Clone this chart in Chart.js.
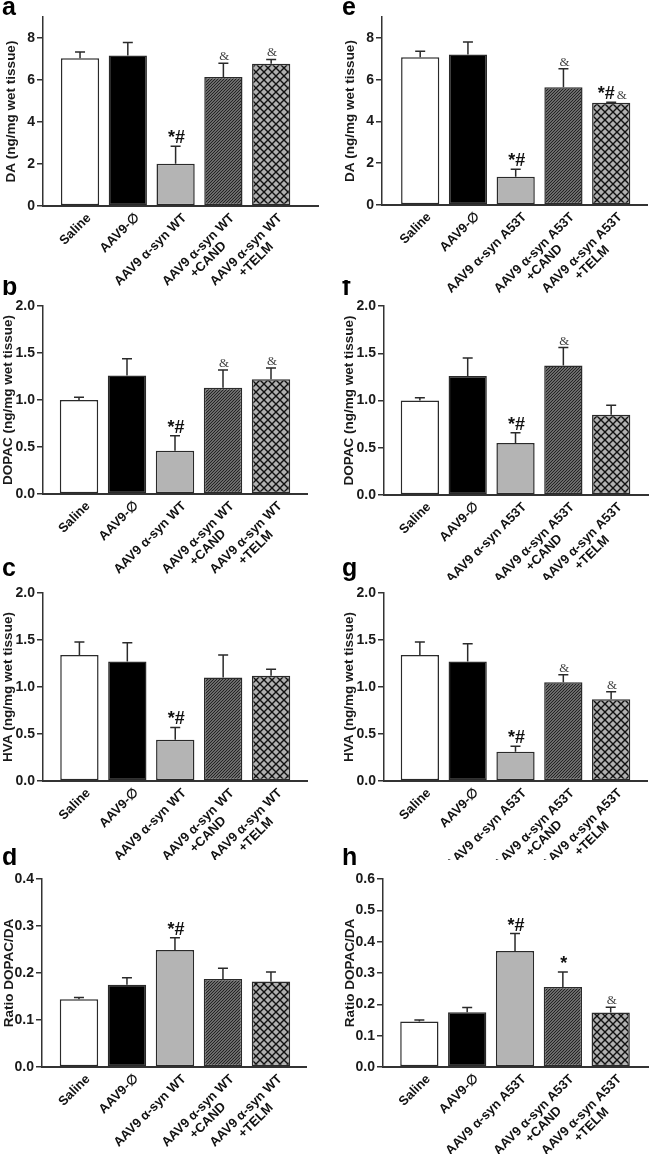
<!DOCTYPE html>
<html>
<head>
<meta charset="utf-8">
<script src="https://cdn.jsdelivr.net/npm/chart.js@4.4.0/dist/chart.umd.min.js"></script>
<style>
  body { margin: 0; background: #fff; }
  #fig { position: relative; width: 649px; height: 1154px; }
  #fig canvas { position: absolute; }
</style>
</head>
<body>
<div id="fig"></div>
<script>
// Group labels
const groupsWT = ['Saline', 'AAV9-\u2205', 'AAV9 \u03b1-syn WT',
  ['AAV9 \u03b1-syn WT', '+CAND'], ['AAV9 \u03b1-syn WT', '+TELM']];
const groupsA53T = ['Saline', 'AAV9-\u2205', 'AAV9 \u03b1-syn A53T',
  ['AAV9 \u03b1-syn A53T', '+CAND'], ['AAV9 \u03b1-syn A53T', '+TELM']];

// DA (ng/mg wet tissue)
const daWT = [7.04, 7.17, 2.01, 6.14, 6.77];
const daWTSem = [0.29, 0.62, 0.83, 0.66, 0.21];
const daWTMarks = ['', '', '*#', '&', '&'];
const daA53T = [7.07, 7.20, 1.35, 5.64, 4.89];
const daA53TSem = [0.29, 0.60, 0.36, 0.88, 0.03];
const daA53TMarks = ['', '', '*#', '&', '*#&'];

// DOPAC (ng/mg wet tissue)
const dopacWT = [1.00, 1.26, 0.46, 1.13, 1.22];
const dopacWTSem = [0.03, 0.18, 0.16, 0.19, 0.12];
const dopacWTMarks = ['', '', '*#', '&', '&'];
const dopacA53T = [1.00, 1.26, 0.55, 1.37, 0.85];
const dopacA53TSem = [0.03, 0.19, 0.11, 0.19, 0.10];
const dopacA53TMarks = ['', '', '*#', '&', ''];

// HVA (ng/mg wet tissue)
const hvaWT = [1.34, 1.27, 0.44, 1.10, 1.12];
const hvaWTSem = [0.14, 0.20, 0.13, 0.24, 0.07];
const hvaWTMarks = ['', '', '*#', '', ''];
const hvaA53T = [1.34, 1.27, 0.31, 1.05, 0.87];
const hvaA53TSem = [0.14, 0.19, 0.06, 0.08, 0.08];
const hvaA53TMarks = ['', '', '*#', '&', '&'];

// Ratio DOPAC/DA
const ratioWT = [0.144, 0.175, 0.249, 0.187, 0.182];
const ratioWTSem = [0.004, 0.015, 0.026, 0.023, 0.020];
const ratioWTMarks = ['', '', '*#', '', ''];
const ratioA53T = [0.145, 0.175, 0.370, 0.255, 0.174];
const ratioA53TSem = [0.005, 0.015, 0.056, 0.048, 0.017];
const ratioA53TMarks = ['', '', '*#', '*', '&'];

// Y ticks
const daTicks = [0, 2, 4, 6, 8];
const concTicks = [0, 0.5, 1.0, 1.5, 2.0];
const ratioWTTicks = [0, 0.1, 0.2, 0.3, 0.4];
const ratioA53TTicks = [0, 0.1, 0.2, 0.3, 0.4, 0.5, 0.6];

const SANS = '"Liberation Sans", Arial, Helvetica, sans-serif';
const SERIF = '"Liberation Serif", "Times New Roman", serif';

// panel layout: canvas box + chart area (canvas-relative px)
const panels = [
  { id: 'a', cx: 0, cy: 0, w: 325, h: 300, top: 17, bottom: 206, left: 43, right: 318, tcx: 11.5, lx: 2, ly: 15,
    xMin: -0.775, xMax: 4.98, yMax: 9, yTicks: daTicks, dec: 0, title: 'DA (ng/mg wet tissue)',
    labels: groupsWT, values: daWT, sem: daWTSem, marks: daWTMarks },
  { id: 'b', cx: 0, cy: 280, w: 325, h: 300, top: 26, bottom: 214, left: 43, right: 307, tcx: 8.5, lx: 2, ly: 15,
    xMin: -0.75, xMax: 4.75, yMax: 2, yTicks: concTicks, dec: 1, title: 'DOPAC (ng/mg wet tissue)',
    labels: groupsWT, values: dopacWT, sem: dopacWTSem, marks: dopacWTMarks },
  { id: 'c', cx: 0, cy: 560, w: 325, h: 300, top: 33, bottom: 221, left: 43, right: 307, tcx: 8.7, lx: 2, ly: 16,
    xMin: -0.76, xMax: 4.75, yMax: 2, yTicks: concTicks, dec: 1, title: 'HVA (ng/mg wet tissue)',
    labels: groupsWT, values: hvaWT, sem: hvaWTSem, marks: hvaWTMarks },
  { id: 'd', cx: 0, cy: 848, w: 325, h: 306, top: 31, bottom: 219, left: 42, right: 306, tcx: 9, lx: 2, ly: 17,
    xMin: -0.77, xMax: 4.73, yMax: 0.4, yTicks: ratioWTTicks, dec: 1, title: 'Ratio DOPAC/DA',
    labels: groupsWT, values: ratioWT, sem: ratioWTSem, marks: ratioWTMarks },
  { id: 'e', cx: 325, cy: 0, w: 324, h: 300, top: 17, bottom: 205, left: 57, right: 322, tcx: 25, lx: 17, ly: 15,
    xMin: -0.8, xMax: 4.75, yMax: 9, yTicks: daTicks, dec: 0, title: 'DA (ng/mg wet tissue)',
    labels: groupsA53T, values: daA53T, sem: daA53TSem, marks: daA53TMarks },
  { id: 'f', cx: 325, cy: 280, w: 324, h: 300, top: 26, bottom: 215, left: 59, right: 323, tcx: 24.5, lx: 17, ly: 15,
    xMin: -0.75, xMax: 4.77, yMax: 2, yTicks: concTicks, dec: 1, title: 'DOPAC (ng/mg wet tissue)',
    labels: groupsA53T, values: dopacA53T, sem: dopacA53TSem, marks: dopacA53TMarks },
  { id: 'g', cx: 325, cy: 560, w: 324, h: 300, top: 33, bottom: 221, left: 59, right: 322, tcx: 24.5, lx: 17, ly: 16,
    xMin: -0.75, xMax: 4.75, yMax: 2, yTicks: concTicks, dec: 1, title: 'HVA (ng/mg wet tissue)',
    labels: groupsA53T, values: hvaA53T, sem: hvaA53TSem, marks: hvaA53TMarks },
  { id: 'h', cx: 325, cy: 848, w: 324, h: 306, top: 31, bottom: 219, left: 58, right: 323, tcx: 25, lx: 17, ly: 17,
    xMin: -0.76, xMax: 4.78, yMax: 0.6, yTicks: ratioA53TTicks, dec: 1, title: 'Ratio DOPAC/DA',
    labels: groupsA53T, values: ratioA53T, sem: ratioA53TSem, marks: ratioA53TMarks }
];

function hatchPattern(ctx) {
  const t = document.createElement('canvas');
  t.width = t.height = 3;
  const g = t.getContext('2d');
  g.fillStyle = '#8e8e8e';
  g.fillRect(0, 0, 3, 3);
  g.strokeStyle = '#202020';
  g.lineWidth = 1.2;
  g.beginPath();
  g.moveTo(-1, 4); g.lineTo(4, -1);
  g.moveTo(-1, 1); g.lineTo(1, -1);
  g.moveTo(2, 4); g.lineTo(4, 2);
  g.stroke();
  return ctx.createPattern(t, 'repeat');
}

function crossPattern(ctx) {
  const t = document.createElement('canvas');
  t.width = t.height = 8;
  const g = t.getContext('2d');
  g.fillStyle = '#b0b0b0';
  g.fillRect(0, 0, 8, 8);
  g.strokeStyle = '#111';
  g.lineWidth = 1.4;
  g.beginPath();
  g.moveTo(0, 0); g.lineTo(8, 8);
  g.moveTo(8, 0); g.lineTo(0, 8);
  g.stroke();
  return ctx.createPattern(t, 'repeat');
}

function drawMark(ctx, text, x, baseY) {
  const runs = text.match(/&+|[^&]+/g) || [];
  const fonts = runs.map(r => r[0] === '&' ? `13px ${SERIF}` : `bold 18px ${SANS}`);
  const gap = 2;
  const widths = runs.map((r, k) => { ctx.font = fonts[k]; return ctx.measureText(r).width; });
  const total = widths.reduce((a, b) => a + b, 0) + gap * (runs.length - 1);
  let cx = x - total / 2;
  ctx.textAlign = 'left';
  ctx.textBaseline = 'alphabetic';
  runs.forEach((r, k) => {
    ctx.font = fonts[k];
    ctx.fillStyle = r[0] === '&' ? '#444' : '#111';
    ctx.fillText(r, cx, baseY);
    cx += widths[k] + gap;
  });
}

function renderPanel(p) {
  const cv = document.createElement('canvas');
  cv.width = p.w;
  cv.height = p.h;
  cv.style.left = p.cx + 'px';
  cv.style.top = p.cy + 'px';
  document.getElementById('fig').appendChild(cv);
  const ctx = cv.getContext('2d');
  const fills = ['#ffffff', '#000000', '#b4b4b4', hatchPattern(ctx), crossPattern(ctx)];
  const padLeft = p.tcx - 8.1;

  const extras = {
    id: 'extras' + p.id,
    afterDatasetsDraw(chart) {
      const c = chart.ctx;
      const ys = chart.scales.y;
      const meta = chart.getDatasetMeta(0);
      c.save();
      meta.data.forEach((bar, i) => {
        const top = ys.getPixelForValue(p.values[i] + p.sem[i]);
        c.strokeStyle = '#2a2a2a';
        c.lineWidth = 1.5;
        c.beginPath();
        c.moveTo(bar.x, bar.y);
        c.lineTo(bar.x, top);
        c.moveTo(bar.x - 5, top);
        c.lineTo(bar.x + 5, top);
        c.stroke();
        if (p.marks[i]) drawMark(c, p.marks[i], bar.x + 1, top - 3);
      });
      c.restore();
    },
    afterDraw(chart) {
      const c = chart.ctx;
      const xs = chart.scales.x;
      const base = chart.chartArea.bottom;
      c.save();
      c.font = `bold 13px ${SANS}`;
      c.fillStyle = '#111';
      c.textBaseline = 'middle';
      p.labels.forEach((lab, i) => {
        const lines = Array.isArray(lab) ? lab : [lab];
        c.save();
        c.translate(xs.getPixelForValue(i) + 9, base + 10);
        c.rotate(-Math.PI / 4);
        const w0 = c.measureText(lines[0]).width;
        lines.forEach((ln, k) => {
          if (k === 0) { c.textAlign = 'right'; c.fillText(ln, 0, 0); }
          else { c.textAlign = 'center'; c.fillText(ln, -w0 / 2, k * 14); }
        });
        c.restore();
      });
      // panel letter
      c.font = `bold 25px ${SANS}`;
      c.fillStyle = '#000';
      c.textAlign = 'left';
      c.textBaseline = 'alphabetic';
      c.fillText(p.id, p.lx, p.ly);
      c.restore();
    }
  };

  new Chart(cv, {
    type: 'bar',
    data: {
      datasets: [{
        data: p.values.map((v, i) => ({ x: i, y: v })),
        backgroundColor: fills,
        borderColor: '#2a2a2a',
        borderWidth: 1.5,
        borderSkipped: false,
        barPercentage: 0.8,
        categoryPercentage: 1.0
      }]
    },
    options: {
      responsive: false,
      animation: false,
      events: [],
      layout: { padding: { left: padLeft, top: p.top, right: p.w - p.right, bottom: 0 } },
      plugins: { legend: { display: false }, tooltip: { enabled: false } },
      scales: {
        x: {
          type: 'linear',
          offset: false,
          min: p.xMin,
          max: p.xMax,
          grid: { display: false, drawTicks: false },
          border: { color: '#333', width: 2 },
          ticks: { display: false },
          afterBuildTicks: s => { s.ticks = p.labels.map((_, i) => ({ value: i })); },
          afterFit: s => { s.height = p.h - p.bottom; }
        },
        y: {
          min: 0,
          max: p.yMax,
          afterBuildTicks: s => { s.ticks = p.yTicks.map(v => ({ value: v })); },
          afterFit: s => { s.width = p.left - padLeft; },
          grid: { display: true, drawOnChartArea: false, drawTicks: true, tickLength: 6, color: '#333', lineWidth: 1.5 },
          border: { color: '#333', width: 1.5 },
          ticks: {
            padding: 2,
            color: '#1a1a1a',
            font: { family: SANS, size: 14, weight: 'bold' },
            callback: v => Number(v).toFixed(p.dec)
          },
          title: {
            display: true,
            text: p.title,
            color: '#1a1a1a',
            padding: 0,
            font: { family: SANS, size: 13.5, weight: 'bold' }
          }
        }
      }
    },
    plugins: [extras]
  });
}

panels.forEach(renderPanel);
</script>
</body>
</html>
